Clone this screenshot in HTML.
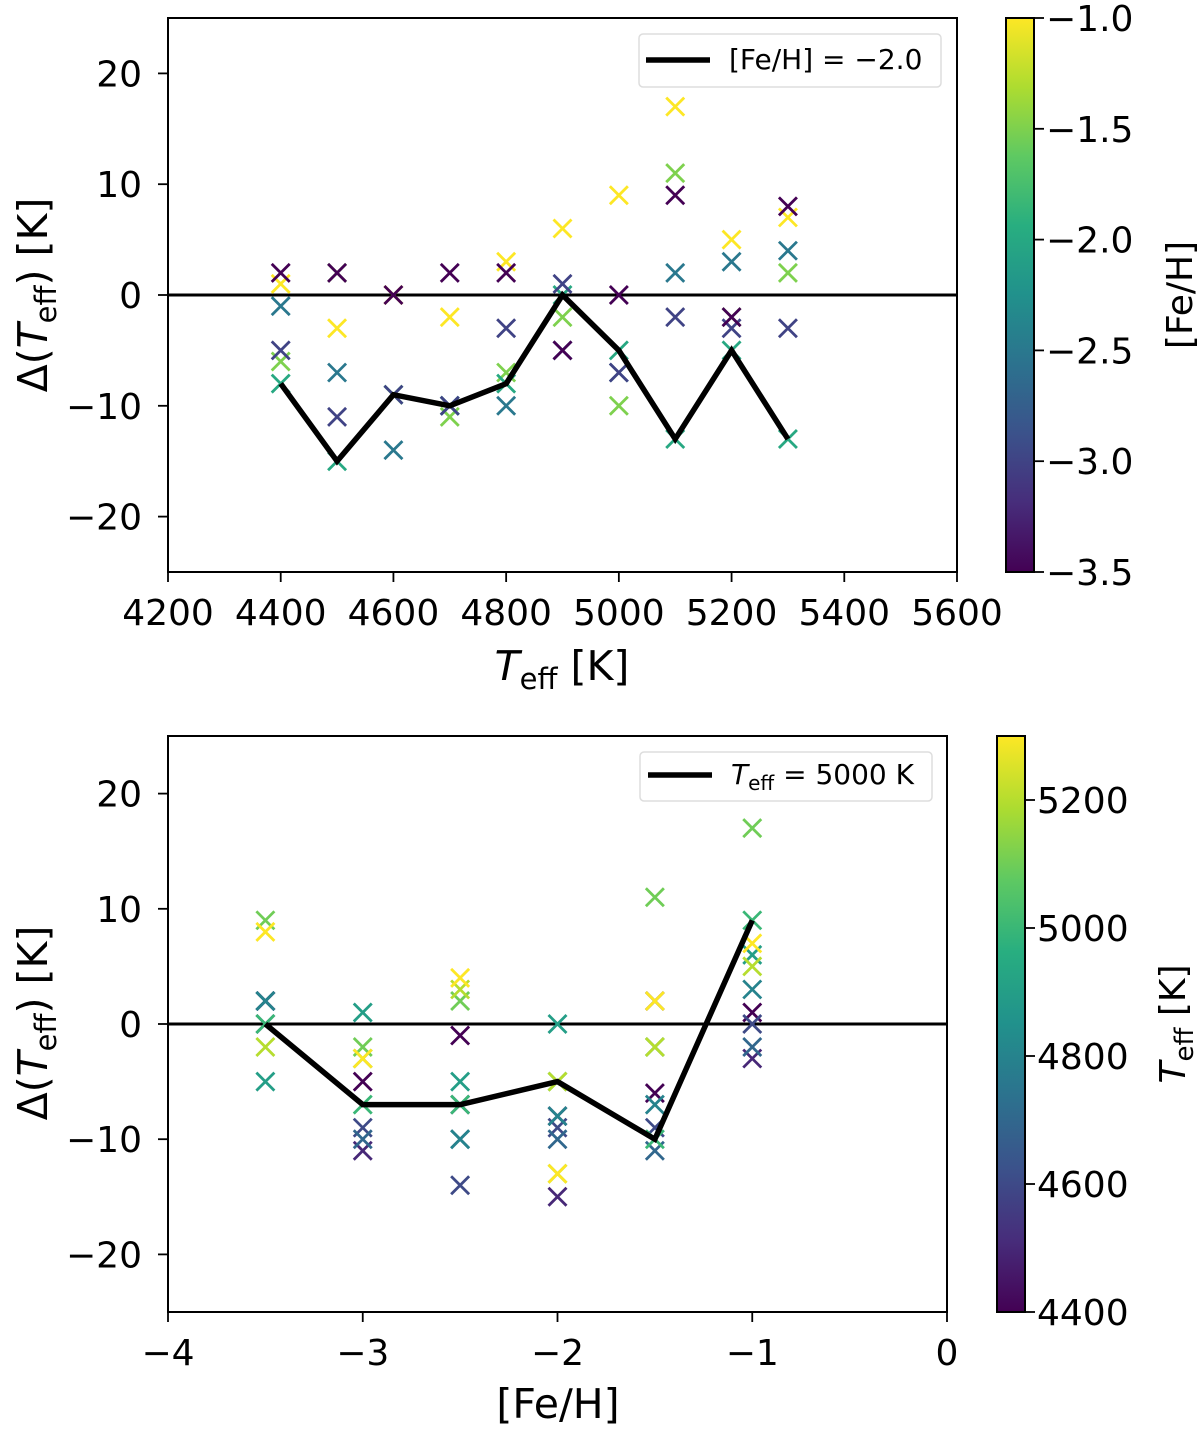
<!DOCTYPE html>
<html><head><meta charset="utf-8">
<style>
html,body{margin:0;padding:0;background:#fff;}
svg{display:block;font-family:"DejaVu Sans","Liberation Sans",sans-serif;}
</style></head>
<body>
<svg id="chart" width="1200" height="1431" viewBox="0 0 1200 1431" xmlns="http://www.w3.org/2000/svg">
<defs>
<linearGradient id="vir" x1="0" y1="1" x2="0" y2="0">
<stop offset="0" stop-color="#440154"/><stop offset="0.125" stop-color="#472d7b"/>
<stop offset="0.25" stop-color="#3b528b"/><stop offset="0.375" stop-color="#2c728e"/>
<stop offset="0.5" stop-color="#21918c"/><stop offset="0.625" stop-color="#28ae80"/>
<stop offset="0.75" stop-color="#5ec962"/><stop offset="0.875" stop-color="#addc30"/>
<stop offset="1" stop-color="#fde725"/>
</linearGradient>
</defs>
<g id="top"></g>
<g id="bot"></g>
</svg>
<script>
// data
const teffs = [4400,4500,4600,4700,4800,4900,5000,5100,5200,5300];
const fehs = [-3.5,-3.0,-2.5,-2.0,-1.5,-1.0];
const dRowM35 = [2,2,0,2,2,-5,0,9,-2,8];
const dRowM30 = [-5,-11,-9,-10,-3,1,-7,-2,-3,-3];
const dRowM25 = [-1,-7,-14,-10,-10,-5,-7,2,3,4];
const dRowM20 = [-8,-15,-9,-10,-8,0,-5,-13,-5,-13];
const dRowM15 = [-6,2,-9,-11,-7,-2,-10,11,-2,2];
const dRowM10 = [1,-3,0,-2,3,6,9,17,5,7];
const topXTicks = [4200,4400,4600,4800,5000,5200,5400,5600];
const yTicks = [-20,-10,0,10,20];
const botXTicks = [-4,-3,-2,-1,0];
const cbTopTicks = [-3.5,-3.0,-2.5,-2.0,-1.5,-1.0];
const cbBotTicks = [4400,4600,4800,5000,5200];
const lineFeh = -2.0;
const lineTeff = 5000;

const grid = [dRowM35,dRowM30,dRowM25,dRowM20,dRowM15,dRowM10];
const NS="http://www.w3.org/2000/svg";
const VIR=["#440154","#472d7b","#3b528b","#2c728e","#21918c","#28ae80","#5ec962","#addc30","#fde725"];
function hex(h){return [1,3,5].map(i=>parseInt(h.substr(i,2),16));}
function viridis(t){t=Math.max(0,Math.min(1,t));const s=t*8,i=Math.min(7,Math.floor(s)),f=s-i;
 const a=hex(VIR[i]),b=hex(VIR[i+1]);return "rgb("+a.map((v,k)=>Math.round(v+(b[k]-v)*f)).join(",")+")";}
function el(tag,attrs,parent){const e=document.createElementNS(NS,tag);for(const k in attrs)e.setAttribute(k,attrs[k]);parent.appendChild(e);return e;}
function fmtMinus(v,dec){let s=dec?Math.abs(v).toFixed(dec):String(Math.abs(v));return (v<0?"\u2212":"")+s;}

function panel(g,P){
 const sx=v=>P.x0+(v-P.xmin)/(P.xmax-P.xmin)*(P.x1-P.x0);
 const sy=v=>P.y1-(v-(-25))/50*(P.y1-P.y0);
 const z=el('line',{x1:P.x0,x2:P.x1,y1:sy(0),y2:sy(0),stroke:'#000','stroke-width':3},g);
 
 
 const rows=fehs.map((f,i)=>i);
 if(P.mode==='top')rows.reverse();
 for(const r of rows)for(let c=0;c<teffs.length;c++){
  const xv=P.mode==='top'?teffs[c]:fehs[r];
  const cv=P.mode==='top'?(fehs[r]+3.5)/2.5:(teffs[c]-4400)/900;
  const px=sx(xv),py=sy(grid[r][c]),d=9,col=viridis(cv);
  const m=el('path',{d:`M${px-d},${py-d}L${px+d},${py+d}M${px-d},${py+d}L${px+d},${py-d}`,stroke:col,'stroke-width':2.8,fill:'none'},g);
  
  
 }
 let pts=[];
 if(P.mode==='top'){const r=fehs.indexOf(lineFeh);teffs.forEach((t,c)=>pts.push(sx(t)+','+sy(grid[r][c])));}
 else{const c=teffs.indexOf(lineTeff);fehs.forEach((f,r)=>pts.push(sx(f)+','+sy(grid[r][c])));}
 const pl=el('polyline',{points:pts.join(' '),fill:'none',stroke:'#000','stroke-width':5.5,'stroke-linejoin':'miter'},g);
 
 
 const fr=el('rect',{x:P.x0,y:P.y0,width:P.x1-P.x0,height:P.y1-P.y0,fill:'none',stroke:'#000','stroke-width':2},g);
 
 
 P.xt.forEach(v=>{const x=sx(v);
  el('line',{x1:x,x2:x,y1:P.y1,y2:P.y1+10,stroke:'#000','stroke-width':1.8},g);
  const t=el('text',{x:x,y:P.y1+53,'text-anchor':'middle','font-size':36},g);t.textContent=fmtMinus(v);
  
  });
 yTicks.forEach(v=>{const y=sy(v);
  el('line',{x1:P.x0-10,x2:P.x0,y1:y,y2:y,stroke:'#000','stroke-width':1.8},g);
  const t=el('text',{x:P.x0-26,y:y+13,'text-anchor':'end','font-size':36},g);t.textContent=fmtMinus(v);
  
  });
 const cb=el('rect',{x:P.cx,y:P.y0,width:28,height:P.y1-P.y0,fill:'url(#vir)',stroke:'#000','stroke-width':2},g);
 
 
 P.cbt.forEach(v=>{const y=P.y1-(v-P.cmin)/(P.cmax-P.cmin)*(P.y1-P.y0);
  el('line',{x1:P.cx+28,x2:P.cx+38,y1:y,y2:y,stroke:'#000','stroke-width':1.8},g);
  const t=el('text',{x:P.cx+40,y:y+13,'font-size':36},g);t.textContent=P.mode==='top'?fmtMinus(v,1):String(v);
  
  });
}
const gTop=document.getElementById('top'),gBot=document.getElementById('bot');
panel(gTop,{mode:'top',x0:168,x1:957,y0:18,y1:572,xmin:4200,xmax:5600,xt:topXTicks,cx:1006,cbt:cbTopTicks,cmin:-3.5,cmax:-1.0});
panel(gBot,{mode:'bot',x0:168,x1:947,y0:736,y1:1312,xmin:-4,xmax:0,xt:botXTicks,cx:997,cbt:cbBotTicks,cmin:4400,cmax:5300});
</script>
<svg style="position:absolute;left:0;top:0" width="1200" height="1431" font-family="DejaVu Sans, Liberation Sans, sans-serif">
<g>
<rect x="639" y="34" width="302" height="53" rx="4" fill="#fff" stroke="#ddd" stroke-width="1.5"/>
<line x1="646" y1="60" x2="710" y2="60" stroke="#000" stroke-width="5.5"/>
<text x="729" y="69" font-size="28">[Fe/H] = −2.0</text>
</g>
<g>
<rect x="640" y="752" width="292" height="49" rx="4" fill="#fff" stroke="#ddd" stroke-width="1.5"/>
<line x1="648" y1="775" x2="712" y2="775" stroke="#000" stroke-width="5.5"/>
<text x="731" y="784" font-size="28"><tspan font-style="italic">T</tspan><tspan font-size="20" dy="6">eff</tspan><tspan dy="-6"> = 5000 K</tspan></text>
</g>
<text x="562" y="680" text-anchor="middle" font-size="41"><tspan font-style="italic">T</tspan><tspan font-size="29" dy="9">eff</tspan><tspan dy="-9"> [K]</tspan></text>
<text transform="translate(47,295) rotate(-90)" text-anchor="middle" font-size="41">Δ(<tspan font-style="italic">T</tspan><tspan font-size="29" dy="9">eff</tspan><tspan dy="-9">) [K]</tspan></text>
<text transform="translate(1192,295) rotate(-90)" text-anchor="middle" font-size="36">[Fe/H]</text>
<text x="558" y="1418" text-anchor="middle" font-size="41">[Fe/H]</text>
<text transform="translate(47,1023) rotate(-90)" text-anchor="middle" font-size="41">Δ(<tspan font-style="italic">T</tspan><tspan font-size="29" dy="9">eff</tspan><tspan dy="-9">) [K]</tspan></text>
<text transform="translate(1185,1024) rotate(-90)" text-anchor="middle" font-size="36"><tspan font-style="italic">T</tspan><tspan font-size="26" dy="8">eff</tspan><tspan dy="-8"> [K]</tspan></text>
</svg>
</body></html>
